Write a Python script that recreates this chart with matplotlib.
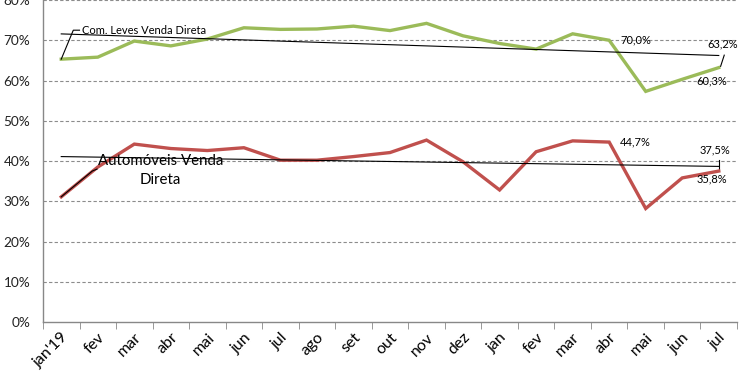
import numpy as np
import matplotlib
matplotlib.use("Agg")
import matplotlib.pyplot as plt
from matplotlib.ticker import FuncFormatter, FixedLocator

plt.rcParams['font.family'] = ['Lato', 'DejaVu Sans']

months = ["jan'19", "fev", "mar", "abr", "mai", "jun", "jul", "ago", "set",
          "out", "nov", "dez", "jan", "fev", "mar", "abr", "mai", "jun", "jul"]

# share of direct sales (%)
com_leves = [65.3, 65.8, 69.8, 68.6, 70.3, 73.1, 72.7, 72.8, 73.5, 72.4,
             74.2, 71.1, 69.2, 67.8, 71.6, 70.0, 57.3, 60.3, 63.2]
automoveis = [31.1, 38.5, 44.2, 43.1, 42.6, 43.3, 40.2, 40.2, 41.1, 42.1,
              45.2, 39.8, 32.8, 42.3, 45.0, 44.7, 28.2, 35.8, 37.5]

green = "#9BBB59"
red = "#C0504D"

x = np.arange(len(months))

fig = plt.figure(figsize=(7.5, 3.75), dpi=100)
ax = fig.add_axes([0.0573, 0.1413, 0.9254, 0.8587])

ax.set_ylim(0, 80)
ax.set_xlim(-0.5, len(months) - 0.5)

# dashed horizontal grid
for v in range(10, 90, 10):
    ax.axhline(v, color="#8c8c8c", lw=0.8, ls=(0, (3, 2)), zorder=0)

ax.plot(x, com_leves, color=green, lw=2.4, zorder=3, solid_joinstyle="miter")
ax.plot(x, automoveis, color=red, lw=2.4, zorder=3, solid_joinstyle="miter")

# linear trend lines
for series in (com_leves, automoveis):
    k, b = np.polyfit(x, series, 1)
    ax.plot(x[[0, -1]], k * x[[0, -1]] + b, color="black", lw=0.8, zorder=4)

# series labels with leader lines
ax.plot([0, 0.33, 0.5], [com_leves[0], 72.5, 72.5], color="black", lw=0.8, zorder=5)
ax.text(0.58, 72.5, "Com. Leves Venda Direta", fontsize=8, va="center", ha="left")
ax.plot([0, 0.85, 0.98], [automoveis[0], 37.5, 38.0], color="black", lw=0.8, zorder=5)
ax.text(2.71, 37.7, "Automóveis Venda\nDireta", fontsize=10.8, va="center", ha="center",
        linespacing=1.45, zorder=6)

# data labels
ax.text(15.3, com_leves[15] + 0.1, "70,0%", fontsize=8, va="center", ha="left")
ax.text(15.3, automoveis[15] + 0.1, "44,7%", fontsize=8, va="center", ha="left")
ax.text(18.1, 69.0, "63,2%", fontsize=8, va="center", ha="center")
ax.plot([18.05, 18.15], [com_leves[-1] + 0.3, 66.3], color="black", lw=0.8)
ax.text(17.8, 59.9, "60,3%", fontsize=8, va="center", ha="center")
ax.text(17.9, 42.7, "37,5%", fontsize=8, va="center", ha="center")
ax.plot([18, 18], [automoveis[-1] + 0.2, 40.2], color="black", lw=0.8)
ax.text(17.8, 35.6, "35,8%", fontsize=8, va="center", ha="center")

# axes styling
for s in ("top", "right"):
    ax.spines[s].set_visible(False)
for s in ("left", "bottom"):
    ax.spines[s].set_color("#888888")
    ax.spines[s].set_linewidth(1.0)

ax.yaxis.set_major_locator(FixedLocator(range(0, 90, 10)))
ax.yaxis.set_major_formatter(FuncFormatter(lambda v, p: f"{v:.0f}%"))
ax.tick_params(axis="y", length=0, labelsize=9.8, pad=9, colors="#222222")

ax.set_xticks(x)
ax.set_xticklabels(months, rotation=45, ha="right", rotation_mode="anchor", fontsize=11.5)
ax.set_xticks(np.arange(-0.5, len(months)), minor=True)
ax.tick_params(axis="x", which="major", length=0, pad=6)
ax.tick_params(axis="x", which="minor", length=5, color="#888888", direction="out")

fig.savefig("out.png", dpi=100)
